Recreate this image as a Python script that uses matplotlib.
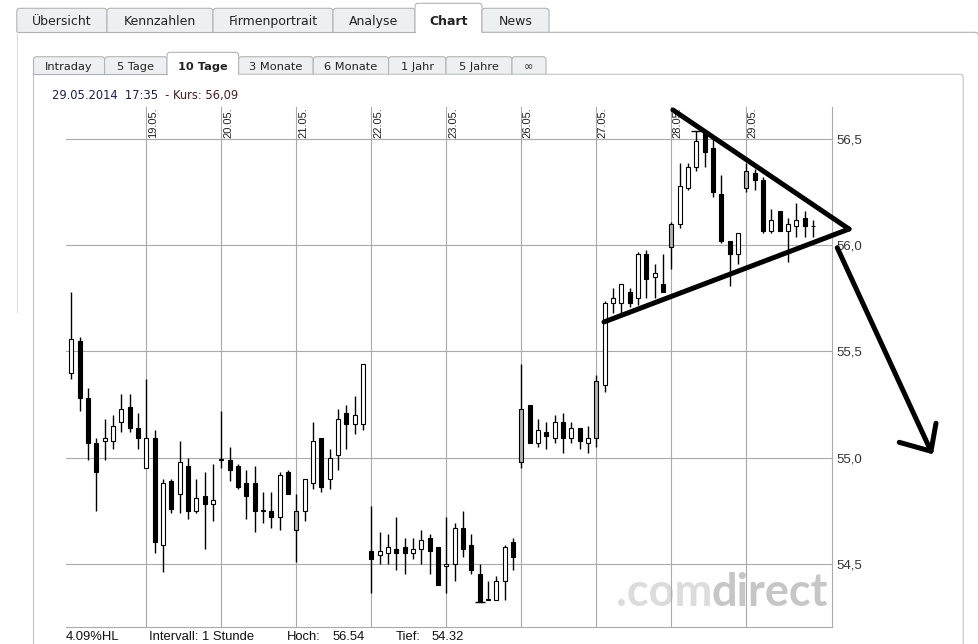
import numpy as np
import matplotlib
matplotlib.use('Agg')
import matplotlib.pyplot as plt
from matplotlib.path import Path
from matplotlib.patches import PathPatch

# 10 Tage, 1-Stunden-Kerzen (9 pro Tag)
days = ['16.05.', '19.05.', '20.05.', '21.05.', '22.05.',
        '23.05.', '26.05.', '27.05.', '28.05.', '29.05.']
per_day = 9

opens = [55.40, 55.55, 55.28, 55.07, 55.08, 55.08, 55.17, 55.24, 55.14,
         54.95, 55.09, 54.59, 54.89, 54.83, 54.96, 54.75, 54.82, 54.78,
         54.99, 54.99, 54.96, 54.88, 54.88, 54.75, 54.75, 54.72, 54.93,
         54.66, 54.75, 54.88, 55.09, 54.90, 55.01, 55.21, 55.16, 55.16,
         54.56, 54.54, 54.55, 54.57, 54.58, 54.55, 54.57, 54.62, 54.58,
         54.49, 54.50, 54.67, 54.59, 54.45, 54.33, 54.33, 54.42, 54.60,
         54.98, 55.25, 55.07, 55.12, 55.09, 55.17, 55.09, 55.14, 55.07,
         55.09, 55.34, 55.73, 55.73, 55.78, 55.75, 55.96, 55.85, 55.82,
         55.99, 56.10, 56.27, 56.37, 56.54, 56.46, 56.24, 56.02, 55.96,
         56.27, 56.34, 56.31, 56.07, 56.16, 56.07, 56.09, 56.13, 56.09]
highs = [55.78, 55.57, 55.33, 55.09, 55.18, 55.20, 55.30, 55.30, 55.21,
         55.37, 55.13, 54.90, 54.90, 55.08, 55.00, 54.90, 54.93, 54.97,
         55.22, 55.05, 54.97, 54.94, 54.96, 54.84, 54.84, 54.93, 54.94,
         54.83, 54.90, 55.17, 55.09, 55.04, 55.23, 55.25, 55.29, 55.44,
         54.77, 54.65, 54.64, 54.72, 54.62, 54.62, 54.66, 54.64, 54.58,
         54.72, 54.69, 54.75, 54.64, 54.50, 54.42, 54.44, 54.59, 54.62,
         55.44, 55.25, 55.18, 55.17, 55.20, 55.21, 55.17, 55.14, 55.15,
         55.39, 55.74, 55.80, 55.82, 55.80, 55.97, 55.98, 55.91, 55.96,
         56.11, 56.39, 56.39, 56.54, 56.54, 56.50, 56.33, 56.02, 56.06,
         56.39, 56.36, 56.32, 56.17, 56.16, 56.13, 56.20, 56.16, 56.12]
lows = [55.37, 55.22, 54.99, 54.75, 54.99, 55.04, 55.12, 55.12, 55.04,
        54.95, 54.55, 54.46, 54.74, 54.74, 54.71, 54.74, 54.57, 54.70,
        54.95, 54.89, 54.85, 54.71, 54.65, 54.69, 54.67, 54.66, 54.83,
        54.51, 54.70, 54.85, 54.84, 54.85, 54.94, 55.04, 55.11, 55.13,
        54.36, 54.50, 54.50, 54.47, 54.45, 54.52, 54.50, 54.45, 54.40,
        54.36, 54.42, 54.53, 54.45, 54.32, 54.33, 54.33, 54.33, 54.47,
        54.95, 55.07, 55.05, 55.04, 55.07, 55.02, 55.07, 55.04, 55.02,
        55.05, 55.31, 55.68, 55.68, 55.71, 55.72, 55.75, 55.75, 55.78,
        55.89, 56.08, 56.26, 56.35, 56.37, 56.23, 56.01, 55.81, 55.91,
        56.25, 56.26, 56.06, 56.06, 56.07, 55.92, 56.04, 56.04, 56.04]
closes = [55.56, 55.28, 55.07, 54.93, 55.09, 55.15, 55.23, 55.14, 55.09,
          55.09, 54.60, 54.88, 54.76, 54.98, 54.75, 54.81, 54.78, 54.80,
          54.99, 54.94, 54.86, 54.82, 54.75, 54.75, 54.72, 54.92, 54.83,
          54.75, 54.90, 55.08, 54.86, 55.00, 55.18, 55.16, 55.20, 55.44,
          54.52, 54.56, 54.58, 54.55, 54.55, 54.57, 54.61, 54.56, 54.40,
          54.50, 54.67, 54.57, 54.47, 54.32, 54.33, 54.42, 54.58, 54.53,
          55.23, 55.07, 55.13, 55.10, 55.17, 55.09, 55.14, 55.08, 55.09,
          55.36, 55.73, 55.75, 55.82, 55.73, 55.96, 55.84, 55.87, 55.78,
          56.10, 56.28, 56.37, 56.49, 56.44, 56.25, 56.02, 55.96, 56.06,
          56.35, 56.31, 56.07, 56.12, 56.07, 56.10, 56.12, 56.09, 56.09]
gray_bars = [27, 54, 63, 72, 81]

yticks = [54.5, 55.0, 55.5, 56.0, 56.5]

# handgezeichnetes Dreieck + Pfeil (Kerzenindex, Kurs)
tri_upper = [(72.2, 56.638), (93.33, 56.077)]
tri_lower = [(63.93, 55.639), (93.33, 56.077)]
arrow_shaft = [(91.92, 55.989), (103.17, 55.030)]
arrow_head = [(99.36, 55.072), (103.17, 55.030), (103.77, 55.162)]

tabs = ['Übersicht', 'Kennzahlen', 'Firmenportrait', 'Analyse', 'Chart', 'News']
tab_x = [16.8, 107, 213, 333, 415, 482, 549]
subtabs = ['Intraday', '5 Tage', '10 Tage', '3 Monate', '6 Monate', '1 Jahr', '5 Jahre', '∞']
subtab_x = [33.5, 104.6, 167, 238.6, 313.2, 388.6, 446, 512, 546]

W, H = 979, 644
opens, highs, lows, closes = map(np.array, (opens, highs, lows, closes))
n = len(opens)
idx = np.arange(n)

fig = plt.figure(figsize=(9.79, 6.44), dpi=100)
bg = fig.add_axes([0, 0, 1, 1], zorder=0)
bg.set_xlim(0, W)
bg.set_ylim(H, 0)
bg.axis('off')


def tab(x0, x1, top, bottom, fill, r=3):
    verts = [(x0, bottom), (x0, top + r), (x0, top), (x0 + r, top),
             (x1 - r, top), (x1, top), (x1, top + r), (x1, bottom)]
    codes = [Path.MOVETO, Path.LINETO, Path.CURVE3, Path.CURVE3,
             Path.LINETO, Path.CURVE3, Path.CURVE3, Path.LINETO]
    bg.add_patch(PathPatch(Path(verts, codes), facecolor=fill,
                           edgecolor='#b4b4b4', lw=0.8))


line_c = '#b0b0b0'
# Reiter oben
for i, lab in enumerate(tabs):
    active = lab == 'Chart'
    tab(tab_x[i], tab_x[i + 1], 3.3 if active else 8.3, 32.3,
        'white' if active else '#edf0f2')
    bg.text((tab_x[i] + tab_x[i + 1]) / 2, 21.5, lab, ha='center', va='center',
            fontsize=9, color='#222222', weight='bold' if active else 'normal')
bg.plot([16.8, tab_x[4]], [32.3, 32.3], color=line_c, lw=0.8)
bg.plot([tab_x[5], 975, 977.5, 978.5], [32.3, 32.3, 33, 35.5], color=line_c, lw=0.8)
bg.plot([16.8, 16.8], [32.3, 312], color='#dedede', lw=0.8)

# Zeitraum-Reiter
for i, lab in enumerate(subtabs):
    active = lab == '10 Tage'
    tab(subtab_x[i], subtab_x[i + 1], 52.3 if active else 56.7, 74.3,
        'white' if active else '#edf0f2')
    bg.text((subtab_x[i] + subtab_x[i + 1]) / 2, 67, lab, ha='center', va='center',
            fontsize=8.2, color='#222222', weight='bold' if active else 'normal')
bg.plot([33.5, subtab_x[2]], [74.3, 74.3], color=line_c, lw=0.8)
bg.plot([subtab_x[3], 960.5, 962.5, 963.2, 963.2], [74.3, 74.3, 75, 77, H],
        color='#c4c4c4', lw=0.8)
bg.plot([33.5, 33.5], [74.3, H], color='#c4c4c4', lw=0.8)

t1 = bg.text(51.8, 95.7, '29.05.2014  17:35', ha='left', va='center',
             fontsize=8.3, color='#1b1f4f')
bg.annotate('  - Kurs: %s' % ('%.2f' % closes[-1]).replace('.', ','),
            xy=(1, 0), xycoords=t1, ha='left', va='bottom',
            fontsize=8.3, color='#4f1b1b')

# Wasserzeichen
bg.text(712, 606, '.com', ha='right', va='baseline', fontsize=32.5,
        family='Lato', weight='bold', color='#dcdcdc')
bg.text(712, 606, 'direct', ha='left', va='baseline', fontsize=32.5,
        family='Lato', weight='bold', color='#c6c6c6')

# Fusszeile
hl = (highs.max() - lows.min()) / lows.min() * 100
foot = [(66, '%.2f%%HL' % hl), (149, 'Intervall: 1 Stunde'),
        (286.7, 'Hoch:'), (333, '%.2f' % highs.max()),
        (395.7, 'Tief:'), (431.7, '%.2f' % lows.min())]
for x, s in foot:
    bg.text(x, 639.5, s, ha='left', va='baseline', fontsize=9.4,
            family='Liberation Sans', color='#111111')

# Chart
ax = fig.add_axes([66 / W, 1 - 627 / H, (832 - 66) / W, (627 - 107) / H], zorder=1)
ax.set_facecolor('none')
ax.set_xlim(-0.636, 91.29)
ax.set_ylim(54.2017, 56.652)

day_starts = np.arange(1, len(days)) * per_day
ax.set_xticks(day_starts)
ax.set_yticks(yticks)
ax.set_yticklabels([('%.1f' % v).replace('.', ',') for v in yticks])
ax.grid(color='#aaaaaa', lw=0.8)
ax.tick_params(axis='x', length=0, labelbottom=False)
ax.tick_params(axis='y', length=0, left=False, labelleft=False, right=False,
               labelright=True, pad=3, labelsize=9.5, labelcolor='#333333')
for t in ax.get_yticklabels():
    t.set_family('Liberation Sans')
for s in ['top', 'left']:
    ax.spines[s].set_visible(False)
for s in ['right', 'bottom']:
    ax.spines[s].set_color('#aaaaaa')
    ax.spines[s].set_linewidth(0.8)

for d in range(1, len(days)):
    ax.text(d * per_day + 0.2, 0.941, days[d], transform=ax.get_xaxis_transform(),
            rotation=90, ha='left', va='bottom', fontsize=8,
            family='Liberation Sans', color='#222222')

colors = np.where(closes >= opens, 'white', 'black').astype(object)
colors[gray_bars] = '#b0b0b0'
body_lo = np.minimum(opens, closes)
body_h = np.maximum(np.abs(closes - opens), 0.002)
ax.vlines(idx, lows, highs, color='black', lw=1.0, zorder=3)
ax.bar(idx, body_h, bottom=body_lo, width=0.48, color=list(colors),
       edgecolor='black', lw=0.8, zorder=4)

# Hoch/Tief-Markierung
ih, il = highs.argmax(), lows.argmin()
ax.hlines(highs[ih], ih - 0.6, ih + 0.6, color='black', lw=1.0, zorder=4)
ax.hlines(lows[il], il - 0.6, il + 0.6, color='black', lw=1.0, zorder=4)

for pts in [tri_upper, tri_lower, arrow_shaft, arrow_head]:
    xs, ys = zip(*pts)
    ax.plot(xs, ys, color='black', lw=3.6, solid_capstyle='round',
            solid_joinstyle='round', clip_on=False, zorder=10)

fig.savefig('out.png', dpi=100, facecolor='white')
